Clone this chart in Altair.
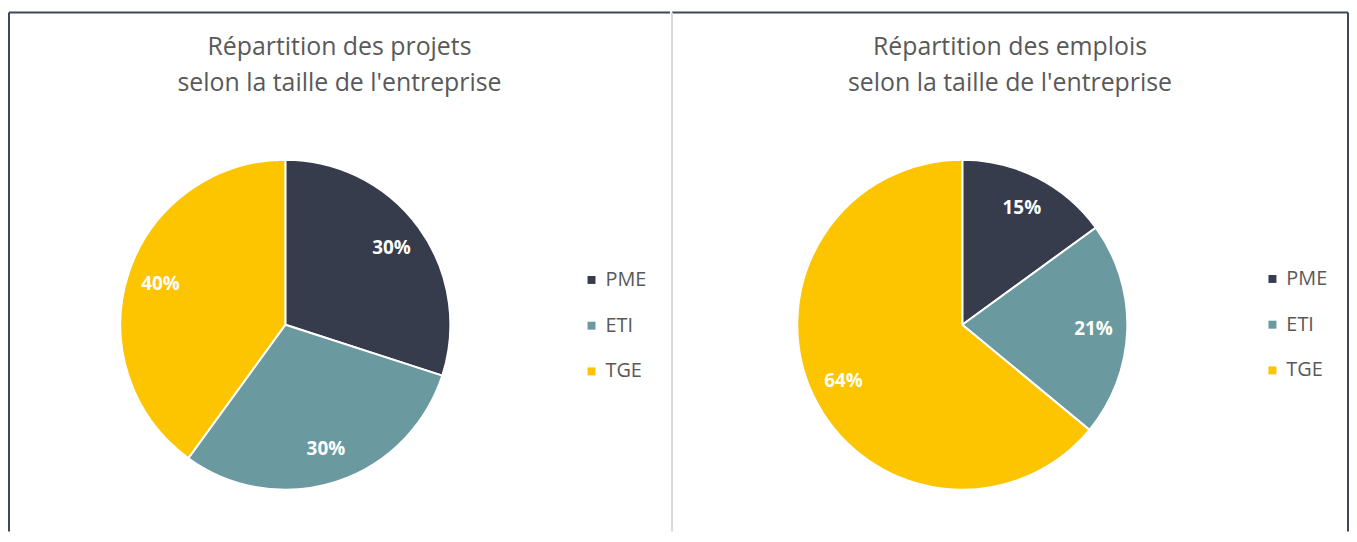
import altair as alt
import pandas as pd

categories = ["PME", "ETI", "TGE"]
projets = [30, 30, 40]
emplois = [15, 21, 64]
title_projets = ["Répartition des projets", "selon la taille de l'entreprise"]
title_emplois = ["Répartition des emplois", "selon la taille de l'entreprise"]
colors = ["#363c4c", "#6a9aa0", "#fdc400"]

FONT = "Open Sans"
H = 522
CY = 314
R = 166


def panel(values, title, w, cx, legend_x, legend_y, rules):
    df = pd.DataFrame({
        "cat": categories,
        "val": values,
        "ord": list(range(len(categories))),
        "label": [f"{v}%" for v in values],
    })
    base = alt.Chart(df).encode(
        theta=alt.Theta("val:Q", stack=True),
        order=alt.Order("ord:Q"),
    )
    color = alt.Color(
        "cat:N",
        scale=alt.Scale(domain=categories, range=colors),
        legend=alt.Legend(
            title=None, orient="none", legendX=legend_x, legendY=legend_y,
            symbolType="square", symbolSize=64, symbolStrokeWidth=0,
            labelFontSize=20, labelFont=FONT, labelColor="#595959",
            rowPadding=26, labelOffset=4,
        ),
    )
    arc = base.mark_arc(outerRadius=R, stroke="white", strokeWidth=2).encode(
        color=color, x=alt.value(cx), y=alt.value(CY)
    )
    text = base.mark_text(
        radius=132, font=FONT, fontSize=19, fontWeight="bold", color="white"
    ).encode(text="label:N", x=alt.value(cx), y=alt.value(CY))
    one = pd.DataFrame({"a": [0]})
    layers = [arc, text]
    for (x1, y1, x2, y2, c) in rules:
        layers.append(
            alt.Chart(one).mark_rule(color=c, strokeWidth=2).encode(
                x=alt.value(x1), y=alt.value(y1), x2=alt.value(x2), y2=alt.value(y2)
            )
        )
    return alt.layer(*layers).properties(
        width=w, height=H,
        title=alt.Title(
            text=title, fontSize=25, font=FONT, fontWeight="normal",
            color="#595959", lineHeight=36, offset=-85, anchor="middle",
        ),
    )


DARK = "#3f4756"
LIGHT = "#d9d9d9"
W1 = 665
W2 = 680
left = panel(projets, title_projets, W1, 278, 576, 259,
             [(0, 0, 0, H, DARK), (0, 0, W1, 0, DARK)])
right = panel(emplois, title_emplois, W2, 292, 594, 258,
              [(0, 0, W2, 0, DARK), (W2, 0, W2, H, DARK), (0, 0, 0, H, LIGHT)])

chart = alt.hconcat(left, right, spacing=0).resolve_scale(color="independent").resolve_legend(
    color="independent"
).properties(
    padding={"left": 0, "top": 2, "right": 0, "bottom": 0}
).configure_view(stroke=None)

chart.save("out.html", embed_options={"renderer": "svg", "actions": False})
